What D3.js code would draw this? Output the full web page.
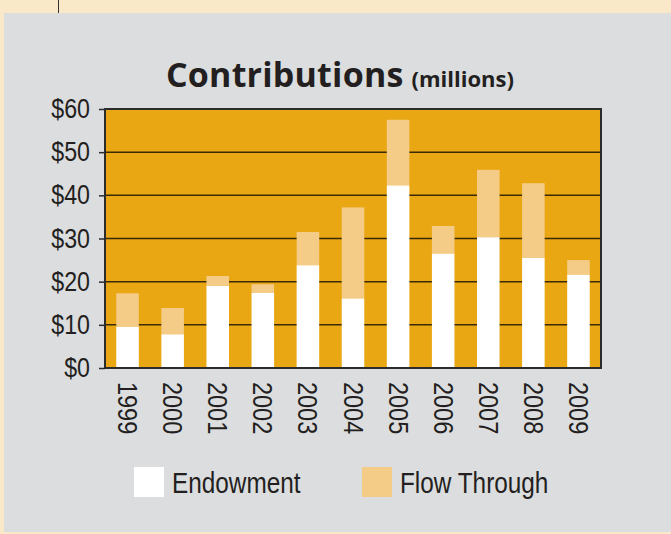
<!DOCTYPE html>
<html>
<head>
<meta charset="utf-8">
<script src="https://cdn.jsdelivr.net/npm/d3@7"></script>
<style>
  body { margin: 0; background: #f9e9c9; }
  svg { display: block; }
</style>
</head>
<body>
<div id="chart"></div>
<script>
// Chart data (millions of dollars)
let years = ["1999", "2000", "2001", "2002", "2003", "2004", "2005", "2006", "2007", "2008", "2009"];
let endowment = [9.5, 7.8, 19.0, 17.4, 23.8, 16.1, 42.3, 26.5, 30.3, 25.5, 21.6];
let flowThrough = [7.8, 6.1, 2.3, 2.0, 7.7, 21.1, 15.2, 6.4, 15.6, 17.3, 3.4];
let yTicks = [0, 10, 20, 30, 40, 50, 60];
let seriesNames = ["Endowment", "Flow Through"];

let width = 671, height = 534;
let margin = {top: 109, right: 70, bottom: 166, left: 105};
let plot_w = width - margin.left - margin.right;
let plot_h = height - margin.top - margin.bottom;

let colors = {endow: "#ffffff", flow: "#f4cc88", plot: "#e8a713", panel: "#dcdddf"};
// no condensed face installed, so squeeze Liberation Sans horizontally
let narrow = "'Liberation Sans', Arial, sans-serif";

let svg = d3.select("#chart")
    .append("svg")
    .attr("width", width)
    .attr("height", height);

// Gray panel on the cream page
svg.append("rect")
    .attr("x", 4).attr("y", 13)
    .attr("width", width - 4).attr("height", 519)
    .attr("fill", colors.panel);
svg.append("line")
    .attr("x1", 58.5).attr("x2", 58.5).attr("y1", 0).attr("y2", 13)
    .attr("stroke", "#333").attr("stroke-width", 1);

// Title
let title = svg.append("text")
    .attr("x", 166)
    .attr("y", 87)
    .style("font-family", "'Open Sans', sans-serif")
    .style("font-weight", "bold")
    .style("fill", "#231f20");
title.append("tspan").style("font-size", "34px").style("letter-spacing", "0.2px").text("Contributions");
title.append("tspan").attr("dx", 8).style("font-size", "22px").text("(millions)");

let g = svg.append("g")
    .attr("transform", `translate(${margin.left}, ${margin.top})`);

let x = d3.scaleBand()
    .domain(years)
    .range([0, plot_w])
    .paddingInner(0.5)
    .paddingOuter(0.25);

let y = d3.scaleLinear()
    .domain([0, 60])
    .range([plot_h, 0]);

// Plot background
g.append("rect")
    .attr("width", plot_w)
    .attr("height", plot_h)
    .attr("fill", colors.plot);

// Gridlines
g.append("g")
    .selectAll("line")
    .data(yTicks.filter(d => d > 0 && d < 60))
    .enter()
    .append("line")
    .attr("x1", 0).attr("x2", plot_w)
    .attr("y1", d => y(d)).attr("y2", d => y(d))
    .attr("stroke", "#3b2a08")
    .attr("stroke-width", 1.5);

// Stacked bars
let stackData = years.map((yr, i) => ({year: yr, endow: endowment[i], flow: flowThrough[i]}));

g.append("g").selectAll("rect")
    .data(stackData)
    .enter()
    .append("rect")
    .attr("x", d => x(d.year))
    .attr("y", d => y(d.endow + d.flow))
    .attr("width", x.bandwidth())
    .attr("height", d => y(d.endow) - y(d.endow + d.flow))
    .attr("fill", colors.flow);

g.append("g").selectAll("rect")
    .data(stackData)
    .enter()
    .append("rect")
    .attr("x", d => x(d.year))
    .attr("y", d => y(d.endow))
    .attr("width", x.bandwidth())
    .attr("height", d => y(0) - y(d.endow))
    .attr("fill", colors.endow);

// Plot border
g.append("rect")
    .attr("width", plot_w)
    .attr("height", plot_h)
    .attr("fill", "none")
    .attr("stroke", "#2b2b2b")
    .attr("stroke-width", 2);

// Y axis
let yAxis = g.append("g")
    .call(d3.axisLeft(y).tickValues(yTicks).tickSize(6).tickPadding(9).tickFormat(d => "$" + d));
yAxis.select(".domain").remove();
yAxis.selectAll(".tick line").attr("stroke", "#2b2b2b").attr("stroke-width", 1.5);
yAxis.selectAll(".tick text")
    .attr("x", 0)
    .attr("transform", "translate(-15, 0) scale(0.86, 1)")
    .style("font-family", narrow)
    .style("font-size", "27px")
    .style("fill", "#231f20");

// X axis labels, rotated
g.append("g").selectAll("text")
    .data(years)
    .enter()
    .append("text")
    .attr("transform", d => `translate(${x(d) + x.bandwidth() / 2}, ${plot_h + 14}) rotate(90) scale(0.87, 1)`)
    .attr("dy", "0.35em")
    .style("font-family", narrow)
    .style("font-size", "27px")
    .style("fill", "#231f20")
    .text(d => d);

// Legend
let legend = svg.append("g")
    .selectAll("g")
    .data(seriesNames)
    .enter()
    .append("g")
    .attr("transform", (d, i) => `translate(${i === 0 ? 134 : 362}, 467)`);
legend.append("rect")
    .attr("width", 30).attr("height", 30)
    .attr("fill", (d, i) => i === 0 ? colors.endow : colors.flow);
legend.append("text")
    .attr("transform", "translate(38, 26) scale(0.84, 1)")
    .style("font-family", narrow)
    .style("font-size", "29px")
    .style("fill", "#231f20")
    .text(d => d);
</script>
</body>
</html>
